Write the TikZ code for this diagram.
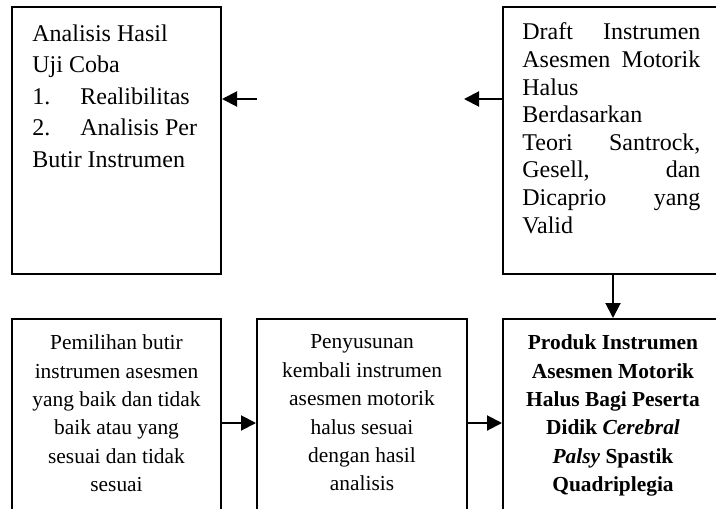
\documentclass[tikz,border=0pt]{standalone}
\usepackage{fontspec}
\setmainfont{Liberation Serif}
\usetikzlibrary{positioning,arrows.meta}

\begin{document}
\begin{tikzpicture}[x=0.5pt,y=-0.5pt,
        box/.style={draw, line width=1pt, anchor=north west, inner sep=0pt, minimum width=104.5pt},
        topbox/.style={box, minimum height=133.5pt},
        lowbox/.style={box, minimum height=104pt},
        txt/.style={inner sep=0pt},
        lowtxt/.style={txt, align=center, font={\fontsize{10.7pt}{14.2pt}\selectfont}},
        arr/.style={line width=1pt, -{Triangle[length=7.5pt,width=7.5pt]}}]
                \useasboundingbox (0,0) rectangle (716,508);
                \node[topbox] (hasil) at (11,6) {};
                \node[topbox, minimum width=110pt] (draft) at (502,6) {};
                \node[lowbox] (pemilihan) at (11,318) {};
                \node[lowbox, minimum width=105pt] (penyusunan) at (256,318) {};
                \node[lowbox, minimum width=110pt] (produk) at (502,318) {};
                \node[txt, align=left, font={\fontsize{12pt}{15.8pt}\selectfont},
                    below right=9pt and 10.5pt of hasil.north west] (hasil-txt)
                    {Analisis Hasil\\ Uji Coba\\ \makebox[24pt][l]{1.}Realibilitas\\
                     \makebox[24pt][l]{2.}Analisis Per\\ Butir Instrumen};
                \node[txt, text width=89pt, align=left, font={\fontsize{12pt}{13.8pt}\selectfont},
                    below right=8.3pt and 10pt of draft.north west] (draft-txt)
                    {Draft\hfill Instrumen\\ Asesmen\hfill Motorik\\ Halus\\ Berdasarkan\\
                     Teori\hfill Santrock,\\ Gesell,\hfill dan\\ Dicaprio\hfill yang\\ Valid};
                \node[lowtxt, below=8.2pt of pemilihan.north] (pemilihan-txt)
                    {Pemilihan butir\\ instrumen asesmen\\ yang baik dan tidak\\
                     baik atau yang\\ sesuai dan tidak\\ sesuai};
                \node[lowtxt, below=8.2pt of penyusunan.north] (penyusunan-txt)
                    {Penyusunan\\ kembali instrumen\\ asesmen motorik\\
                     halus sesuai\\ dengan hasil\\ analisis};
                \node[lowtxt, font={\fontsize{10.7pt}{14.2pt}\selectfont\bfseries},
                    below=8.2pt of produk.north] (produk-txt)
                    {Produk Instrumen\\ Asesmen Motorik\\ Halus Bagi Peserta\\
                     Didik \textit{Cerebral}\\ \textit{Palsy} Spastik\\ Quadriplegia};
                \coordinate (hasil-in) at (257,99);
                \coordinate (draft-out) at (464,99);
                \draw[arr] (hasil-in) -- (hasil.east |- hasil-in);
                \draw[arr] (draft.west |- draft-out) -- (draft-out);
                \draw[arr] (draft.south) -- (produk.north);
                \draw[arr] (pemilihan.east) -- (penyusunan.west);
                \draw[arr] (penyusunan.east) -- (produk.west);
\end{tikzpicture}
\end{document}
